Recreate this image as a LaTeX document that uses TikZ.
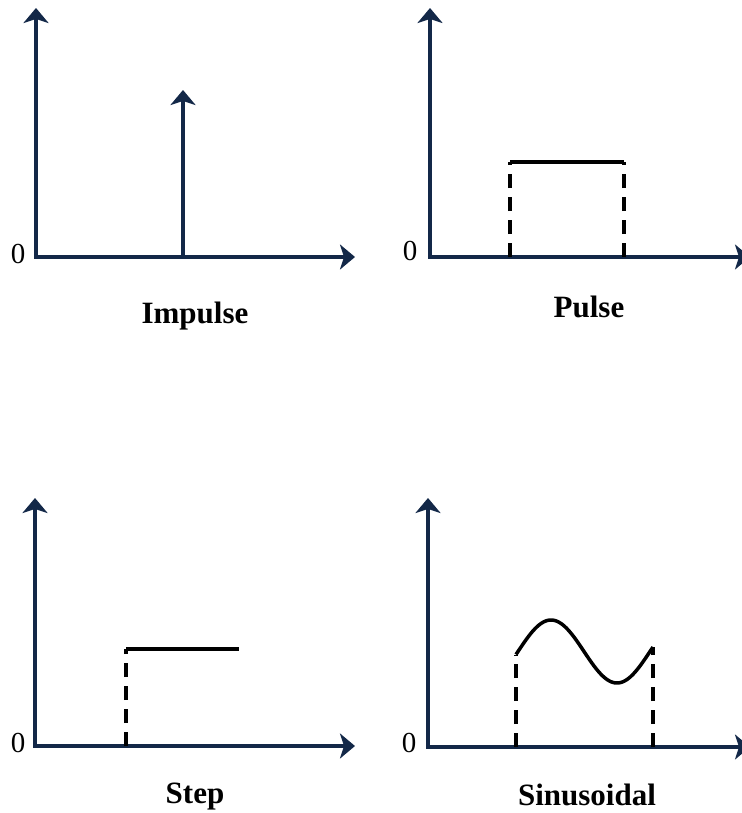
\documentclass[tikz,border=0pt]{standalone}
\usepackage{fontspec}
\setmainfont{Liberation Serif}
\usetikzlibrary{arrows.meta}
\definecolor{axisblue}{RGB}{19,40,72}
\begin{document}
\begin{tikzpicture}[x=1pt,y=-1pt,
  axes/.style={draw=axisblue,line width=3.6pt,line join=miter,
    {Stealth[length=15pt,width=25pt,inset=4pt]}-{Stealth[length=15pt,width=25pt,inset=4pt]}},
  spike/.style={draw=axisblue,line width=3.6pt,-{Stealth[length=15pt,width=25pt,inset=4pt]}},
  sig/.style={draw=black,line width=3.5pt,line join=round},
  dsig/.style={draw=black,line width=3.5pt,dash pattern=on 14pt off 9pt},
  zero/.style={font=\fontsize{29}{29}\selectfont,anchor=base},
  title/.style={font=\fontsize{31}{31}\selectfont\bfseries,anchor=base}]
\useasboundingbox (0,0) rectangle (741,813);

% ---- Impulse ----
\coordinate (o1) at (36,257);
\coordinate (y1) at (36,8);
\coordinate (x1) at (355,257);
\draw[axes] (y1) -- (o1) -- (x1);
\coordinate (i1b) at (183,257);
\coordinate (i1t) at (183,90);
\draw[spike] (i1b) -- (i1t);
\node[zero] (z1) at (18,263) {0};
\node[title] (t1) at (195,323) {Impulse};

% ---- Pulse ----
\coordinate (o2) at (430,257);
\coordinate (y2) at (430,8);
\coordinate (x2) at (750,257);
\draw[axes] (y2) -- (o2) -- (x2);
\coordinate (p2a) at (510,257);
\coordinate (p2b) at (510,162);
\coordinate (p2c) at (624,162);
\coordinate (p2d) at (624,257);
\draw[dsig] (p2a) -- (p2b);
\draw[dsig] (p2d) -- (p2c);
\draw[sig] (p2b) -- (p2c);
\node[zero] (z2) at (410,260) {0};
\node[title] (t2) at (589,317) {Pulse};

% ---- Step ----
\coordinate (o3) at (35,746);
\coordinate (y3) at (35,498);
\coordinate (x3) at (355,746);
\draw[axes] (y3) -- (o3) -- (x3);
\coordinate (s3a) at (126,746);
\coordinate (s3b) at (126,649);
\coordinate (s3c) at (239,649);
\draw[dsig] (s3a) -- (s3b);
\draw[sig] (s3b) -- (s3c);
\node[zero] (z3) at (18,752) {0};
\node[title] (t3) at (195,803) {Step};

% ---- Sinusoidal ----
\coordinate (o4) at (428,747);
\coordinate (y4) at (428,498);
\coordinate (x4) at (750,747);
\draw[axes] (y4) -- (o4) -- (x4);
\coordinate (sLb) at (516,747);
\coordinate (sL) at (516,654.5);
\coordinate (sRb) at (653,747);
\coordinate (sR) at (653,647);
\draw[dsig] (sLb) -- (sL);
\draw[dsig] (sRb) -- (sR);
\draw[sig] plot[domain=516:653,samples=80,smooth] (\x,{651.5-31.5*sin((\x-551)*2.72727+90)});
\node[zero] (z4) at (409,752) {0};
\node[title] (t4) at (587,805) {Sinusoidal};
\end{tikzpicture}
\end{document}
